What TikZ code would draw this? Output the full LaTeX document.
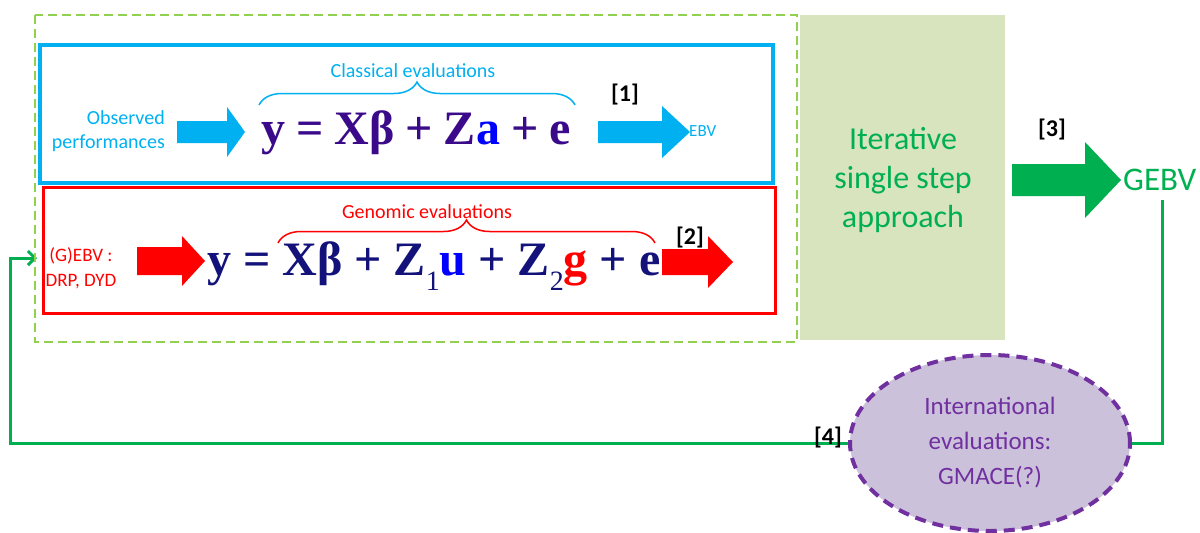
\documentclass[tikz,border=0pt]{standalone}
\usepackage{fontspec}
\setmainfont{Carlito}
\newfontfamily\eqfont{Liberation Serif}
\usetikzlibrary{decorations.pathreplacing,arrows.meta,shapes.geometric,backgrounds}
\definecolor{cyanb}{HTML}{00B0F0}
\definecolor{redb}{HTML}{FF0000}
\definecolor{greenb}{HTML}{00B050}
\definecolor{lgreen}{HTML}{92D050}
\definecolor{olivefill}{HTML}{D7E4BD}
\definecolor{purp}{HTML}{7030A0}
\definecolor{purpfill}{HTML}{CCC1DA}
\definecolor{eqpurple}{HTML}{3A0A8A}
\definecolor{eqnavy}{HTML}{12127A}
\definecolor{blueb}{HTML}{0000FF}
% color, x0, xhead, xtip, ycenter, half body, half head
\newcommand{\blockarr}[7]{\fill[#1] (#2,#5-#6) -- (#3,#5-#6) -- (#3,#5-#7) -- (#4,#5) -- (#3,#5+#7) -- (#3,#5+#6) -- (#2,#5+#6) -- cycle;}
\newcommand{\lowsub}[1]{\raisebox{-0.32em}{\fontsize{28}{28}\selectfont\mdseries #1}}
\begin{document}
\begin{tikzpicture}[x=1pt,y=-1pt,
  lbl/.style={inner sep=0pt, font=\fontsize{20}{24}\selectfont},
  tag/.style={inner sep=0pt, font=\bfseries\fontsize{24}{26}\selectfont, text=black},
  eqn/.style={anchor=base west, inner sep=0pt, font=\eqfont\bfseries\fontsize{48}{54}\selectfont},
  brc/.style={decorate, decoration={brace, amplitude=23pt}, line width=1.5pt},
  loop/.style={greenb, line width=3pt}]
\useasboundingbox (0,0) rectangle (1200,533);

% panels
\fill[olivefill] (800,15) rectangle (1005,340);
\draw[lgreen, line width=2.5pt, dash pattern=on 9pt off 5pt] (35,15) rectangle (797,342);
\draw[cyanb, line width=4pt] (40,45) rectangle (773,183);
\draw[redb, line width=3pt] (43,187) rectangle (775,313);

% classical
\node[lbl, text=cyanb, align=right, anchor=east] (obs) at (165,131) {Observed\\performances};
\blockarr{cyanb}{177}{227}{245}{132}{11}{25}
\node[eqn, text=eqpurple] (eq1) at (261,144) {\spaceskip=0.23em y = Xβ + Z\textcolor{blueb}{a} + e};
\draw[cyanb, brc] (259,105) -- (575,105);
\node[lbl, text=cyanb] (cl) at (413,71) {Classical evaluations};
\node[tag] (t1) at (625,95) {[1]};
\blockarr{cyanb}{598}{662}{690}{132}{11}{26}
\node[lbl, text=cyanb, anchor=west, font=\fontsize{17}{20}\selectfont] (ebv) at (689,131) {EBV};

% genomic
\node[lbl, text=redb, align=center, font=\fontsize{19}{25}\selectfont] (gebvin) at (81,268) {(G)EBV :\\DRP, DYD};
\blockarr{redb}{137}{182}{205}{261}{14}{25}
\node[eqn, text=eqnavy] (eq2) at (207,275) {\spaceskip=0.25em y = Xβ + Z\lowsub{1}\textcolor{blueb}{u} + Z\lowsub{2}\textcolor{redb}{g} + e};
\draw[redb, brc] (278,243) -- (655,243);
\node[lbl, text=redb] (gl) at (427,212) {Genomic evaluations};
\node[tag] (t2) at (690,238) {[2]};
\blockarr{redb}{662}{708}{733}{262}{13}{26}

% single step
\node[inner sep=0pt, text=greenb, align=center, font=\fontsize{32}{39}\selectfont] (iter) at (903,180) {Iterative\\single step\\approach};
\blockarr{greenb}{1012}{1085}{1121}{180}{16}{38}
\node[tag] (t3) at (1052,130) {[3]};
\node[inner sep=0pt, text=greenb, anchor=west, font=\fontsize{33}{38}\selectfont] (gebv) at (1123,180) {GEBV};

% feedback loop
\node[ellipse, draw=purp, fill=purpfill, line width=4pt, dash pattern=on 11pt off 7pt,
      minimum width=280pt, minimum height=176pt, inner sep=0pt,
      text=purp, align=center, font=\fontsize{25}{35}\selectfont] (intl) at (990,443) {International\\evaluations:\\GMACE(?)};
\coordinate (top) at (1162,200);
\coordinate (corner) at (1162,443);
\coordinate (ret) at (10,443);
\coordinate (tgt) at (37,258);
\begin{scope}[on background layer]
\draw[loop] (top) -- (corner) -- (intl.east);
\draw[loop, -{Straight Barb[length=7pt, width=14pt, line width=3pt]}] (intl.west) -- (ret) |- (tgt);
\end{scope}
\node[tag] (t4) at (828,438) {[4]};
\end{tikzpicture}
\end{document}
